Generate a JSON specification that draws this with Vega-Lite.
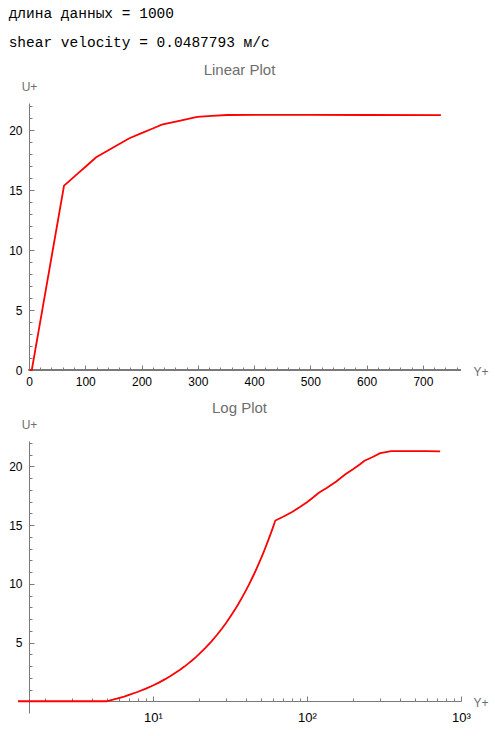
{
  "$schema": "https://vega.github.io/schema/vega-lite/v6.json",
  "background": "white",
  "padding": {"left": 8, "top": 6, "right": 0, "bottom": 0},
  "title": {
    "text": "длина данных = 1000",
    "subtitle": "shear velocity = 0.0487793 м/с",
    "anchor": "start",
    "font": "Liberation Mono",
    "fontSize": 14.5,
    "fontWeight": "normal",
    "color": "#000000",
    "subtitleFont": "Liberation Mono",
    "subtitleFontSize": 14.5,
    "subtitleColor": "#000000",
    "subtitlePadding": 14,
    "offset": 13
  },
  "datasets": {
    "profile": [
      {"yplus": 1.33, "uplus": 0},
      {"yplus": 2, "uplus": 0},
      {"yplus": 3, "uplus": 0},
      {"yplus": 4, "uplus": 0},
      {"yplus": 5, "uplus": 0},
      {"yplus": 5.5, "uplus": 0.13},
      {"yplus": 6, "uplus": 0.27},
      {"yplus": 6.5, "uplus": 0.4},
      {"yplus": 7, "uplus": 0.54},
      {"yplus": 8, "uplus": 0.81},
      {"yplus": 9, "uplus": 1.07},
      {"yplus": 10, "uplus": 1.34},
      {"yplus": 11, "uplus": 1.61},
      {"yplus": 12, "uplus": 1.88},
      {"yplus": 13, "uplus": 2.15},
      {"yplus": 14, "uplus": 2.42},
      {"yplus": 15, "uplus": 2.68},
      {"yplus": 16, "uplus": 2.95},
      {"yplus": 17, "uplus": 3.22},
      {"yplus": 18, "uplus": 3.49},
      {"yplus": 19, "uplus": 3.76},
      {"yplus": 20, "uplus": 4.03},
      {"yplus": 22, "uplus": 4.56},
      {"yplus": 24, "uplus": 5.1},
      {"yplus": 26, "uplus": 5.64},
      {"yplus": 28, "uplus": 6.17},
      {"yplus": 30, "uplus": 6.71},
      {"yplus": 32, "uplus": 7.25},
      {"yplus": 34, "uplus": 7.78},
      {"yplus": 36, "uplus": 8.32},
      {"yplus": 38, "uplus": 8.86},
      {"yplus": 40, "uplus": 9.39},
      {"yplus": 42, "uplus": 9.93},
      {"yplus": 44, "uplus": 10.47},
      {"yplus": 46, "uplus": 11.0},
      {"yplus": 48, "uplus": 11.54},
      {"yplus": 50, "uplus": 12.08},
      {"yplus": 52, "uplus": 12.61},
      {"yplus": 54, "uplus": 13.15},
      {"yplus": 56, "uplus": 13.69},
      {"yplus": 58, "uplus": 14.22},
      {"yplus": 60, "uplus": 14.76},
      {"yplus": 62.3, "uplus": 15.38},
      {"yplus": 70, "uplus": 15.7},
      {"yplus": 80, "uplus": 16.11},
      {"yplus": 90, "uplus": 16.53},
      {"yplus": 100, "uplus": 16.94},
      {"yplus": 110, "uplus": 17.36},
      {"yplus": 119.4, "uplus": 17.75},
      {"yplus": 135, "uplus": 18.17},
      {"yplus": 155, "uplus": 18.71},
      {"yplus": 178.5, "uplus": 19.34},
      {"yplus": 200, "uplus": 19.76},
      {"yplus": 220, "uplus": 20.15},
      {"yplus": 236, "uplus": 20.47},
      {"yplus": 265, "uplus": 20.77},
      {"yplus": 299, "uplus": 21.12},
      {"yplus": 325, "uplus": 21.2},
      {"yplus": 352, "uplus": 21.28},
      {"yplus": 420, "uplus": 21.29},
      {"yplus": 500, "uplus": 21.29},
      {"yplus": 600, "uplus": 21.28},
      {"yplus": 732, "uplus": 21.26}
    ]
  },
  "columns": 1,
  "spacing": 12,
  "config": {
    "view": {"stroke": null},
    "axis": {
      "grid": false,
      "domainColor": "#7a7a7a",
      "tickColor": "#7a7a7a",
      "domainWidth": 1,
      "tickWidth": 1,
      "labelColor": "#000000",
      "labelFont": "Liberation Sans",
      "labelFontSize": 12,
      "labelOverlap": false,
      "labelFlush": false,
      "titleFont": "Liberation Sans",
      "titleFontSize": 12,
      "titleFontWeight": "normal",
      "titleColor": "#6e6e6e",
      "titleAngle": 0
    }
  },
  "concat": [
    {
      "width": 443,
      "height": 267,
      "title": {"text": "Linear Plot", "font": "Liberation Sans", "fontSize": 15, "fontWeight": "normal", "color": "#6e6e6e", "anchor": "middle", "offset": 2},
      "data": {"name": "profile"},
      "layer": [
        {
          "mark": {"type": "rule", "color": "#7a7a7a", "strokeWidth": 1},
          "encoding": {
            "x": {
              "datum": 0, "type": "quantitative",
              "scale": {"domain": [-19.5, 767.7], "nice": false, "zero": false},
              "axis": {
                "title": "Y+",
                "domain": false,
                "values": [0,20,40,60,80,100,120,140,160,180,200,220,240,260,280,300,320,340,360,380,400,420,440,460,480,500,520,540,560,580,600,620,640,660,680,700,720,740,760],
                "labelExpr": "datum.value % 100 === 0 ? datum.label : ''",
                "tickSize": {"condition": {"test": "datum.value % 100 === 0", "value": -5}, "value": -3},
                "labelPadding": 11,
                "titleX": 455, "titleY": 1, "titleAlign": "left", "titleBaseline": "middle"
              }
            },
            "x2": {"datum": 767.7},
            "y": {
              "datum": 0, "type": "quantitative",
              "scale": {"domain": [0, 22.28], "nice": false, "zero": false},
              "axis": {
                "title": "U+",
                "offset": -11,
                "values": [0,1,2,3,4,5,6,7,8,9,10,11,12,13,14,15,16,17,18,19,20,21,22],
                "labelExpr": "datum.value % 5 === 0 ? datum.label : ''",
                "tickSize": {"condition": {"test": "datum.value % 5 === 0", "value": -5}, "value": -3},
                "labelPadding": 12,
                "titleX": 0, "titleY": -13, "titleAlign": "center", "titleBaseline": "alphabetic"
              }
            }
          }
        },
        {
          "mark": {"type": "line", "color": "#ff0000", "strokeWidth": 1.8},
          "encoding": {
            "x": {
              "field": "yplus", "type": "quantitative",
              "scale": {"domain": [-19.5, 767.7], "nice": false, "zero": false},
              "axis": {
                "title": "Y+",
                "domain": false,
                "values": [0,20,40,60,80,100,120,140,160,180,200,220,240,260,280,300,320,340,360,380,400,420,440,460,480,500,520,540,560,580,600,620,640,660,680,700,720,740,760],
                "labelExpr": "datum.value % 100 === 0 ? datum.label : ''",
                "tickSize": {"condition": {"test": "datum.value % 100 === 0", "value": -5}, "value": -3},
                "labelPadding": 11,
                "titleX": 455, "titleY": 1, "titleAlign": "left", "titleBaseline": "middle"
              }
            },
            "y": {
              "field": "uplus", "type": "quantitative",
              "scale": {"domain": [0, 22.28], "nice": false, "zero": false},
              "axis": {
                "title": "U+",
                "offset": -11,
                "values": [0,1,2,3,4,5,6,7,8,9,10,11,12,13,14,15,16,17,18,19,20,21,22],
                "labelExpr": "datum.value % 5 === 0 ? datum.label : ''",
                "tickSize": {"condition": {"test": "datum.value % 5 === 0", "value": -5}, "value": -3},
                "labelPadding": 12,
                "titleX": 0, "titleY": -13, "titleAlign": "center", "titleBaseline": "alphabetic"
              }
            }
          }
        }
      ]
    },
    {
      "width": 443,
      "height": 272,
      "title": {"text": "Log Plot", "font": "Liberation Sans", "fontSize": 15, "fontWeight": "normal", "color": "#6e6e6e", "anchor": "middle", "offset": 2},
      "data": {"name": "profile"},
      "mark": {"type": "line", "color": "#ff0000", "strokeWidth": 1.8},
      "encoding": {
        "x": {
          "field": "yplus", "type": "quantitative",
          "scale": {"type": "log", "domain": [1.33, 1000], "nice": false},
          "axis": {
            "title": "Y+",
            "offset": -12,
            "values": [2,3,4,5,6,7,8,9,10,20,30,40,50,60,70,80,90,100,200,300,400,500,600,700,800,900,1000],
            "labelExpr": "datum.value === 10 ? '10¹' : datum.value === 100 ? '10²' : datum.value === 1000 ? '10³' : ''",
            "tickSize": {"condition": {"test": "datum.value === 10 || datum.value === 100 || datum.value === 1000", "value": -5}, "value": -3},
            "labelPadding": 15,
            "labelFontSize": 13,
            "titleX": 455, "titleY": 1, "titleAlign": "left", "titleBaseline": "middle"
          }
        },
        "y": {
          "field": "uplus", "type": "quantitative",
          "scale": {"domain": [-1, 22.15], "nice": false, "zero": false},
          "axis": {
            "title": "U+",
            "offset": -11,
            "values": [1,2,3,4,5,6,7,8,9,10,11,12,13,14,15,16,17,18,19,20,21,22],
            "labelExpr": "datum.value % 5 === 0 ? datum.label : ''",
            "tickSize": {"condition": {"test": "datum.value % 5 === 0", "value": -5}, "value": -3},
            "labelPadding": 12,
            "titleX": 0, "titleY": -13, "titleAlign": "center", "titleBaseline": "alphabetic"
          }
        }
      }
    }
  ]
}
